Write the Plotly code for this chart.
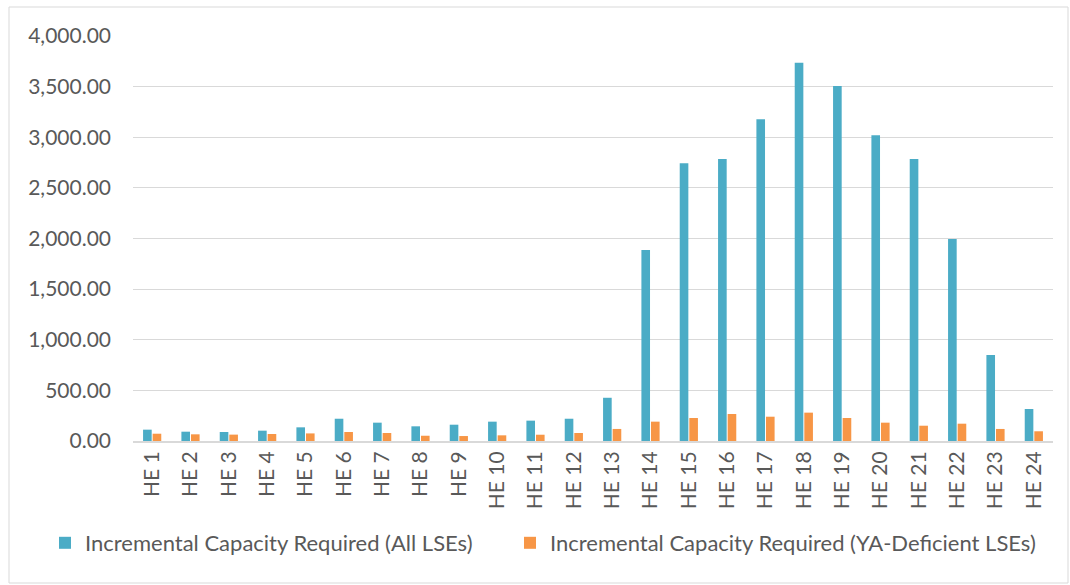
import plotly.graph_objects as go

hours = [f"HE {i}" for i in range(1, 25)]
all_lses = [112, 92, 89, 102, 135, 220, 181, 145, 161, 191, 201, 220,
            427, 1886, 2743, 2785, 3177, 3737, 3506, 3019, 2785, 1995, 849, 316]
ya_deficient = [72, 66, 63, 69, 75, 89, 79, 52, 49, 56, 62, 79,
                119, 191, 227, 267, 240, 280, 227, 181, 151, 171, 119, 96]
y_ticks = [0, 500, 1000, 1500, 2000, 2500, 3000, 3500, 4000]

BLUE = "#4BACC6"
ORANGE = "#F79646"
FONT = "Lato"
FS = 21

fig = go.Figure()
fig.add_trace(go.Bar(x=hours, y=all_lses, name="Incremental Capacity Required (All LSEs)",
                     marker=dict(color=BLUE, line=dict(width=0)), legend="legend"))
fig.add_trace(go.Bar(x=hours, y=ya_deficient, name="Incremental Capacity Required (YA-Deficient LSEs)",
                     marker=dict(color=ORANGE, line=dict(width=0)), legend="legend2"))

L, R, T, B = 133, 17, 36, 144
pw, ph = 1070 - L - R, 585 - T - B
leg_y = -(543 - 441) / ph
leg_common = dict(orientation="h", xanchor="left", y=leg_y, yanchor="middle",
                  font=dict(size=22, color="#595959"), itemwidth=30,
                  bgcolor="rgba(0,0,0,0)")

fig.update_layout(
    width=1070, height=585,
    margin=dict(l=L, r=R, t=T, b=B),
    paper_bgcolor="white", plot_bgcolor="white",
    barmode="group", bargap=0.5, bargroupgap=0.1,
    font=dict(family=FONT, color="#595959", size=FS),
    showlegend=True,
    legend=dict(x=(45 - L) / pw, **leg_common),
    legend2=dict(x=(510 - L) / pw, **leg_common),
    xaxis=dict(tickangle=-90, tickfont=dict(size=FS, color="#595959"),
               showgrid=False, showline=True, linecolor="#d9d9d9", linewidth=2, ticks=""),
    yaxis=dict(range=[0, 4000], tickvals=y_ticks, tickformat=",.2f",
               tickfont=dict(size=FS, color="#595959"),
               showgrid=True, gridcolor="#d9d9d9", gridwidth=1, zeroline=False,
               showline=False, ticks="", ticklabelstandoff=21),
    shapes=[dict(type="rect", xref="paper", yref="paper",
                 x0=(9 - L) / pw, x1=(1068 - L) / pw,
                 y0=(585 - B - 583) / ph, y1=(585 - B - 7) / ph,
                 line=dict(color="#d9d9d9", width=1), fillcolor="rgba(0,0,0,0)", layer="below")],
)

fig.write_html("out.html", config={"displayModeBar": False},
               post_script="document.body.style.margin='0';")
